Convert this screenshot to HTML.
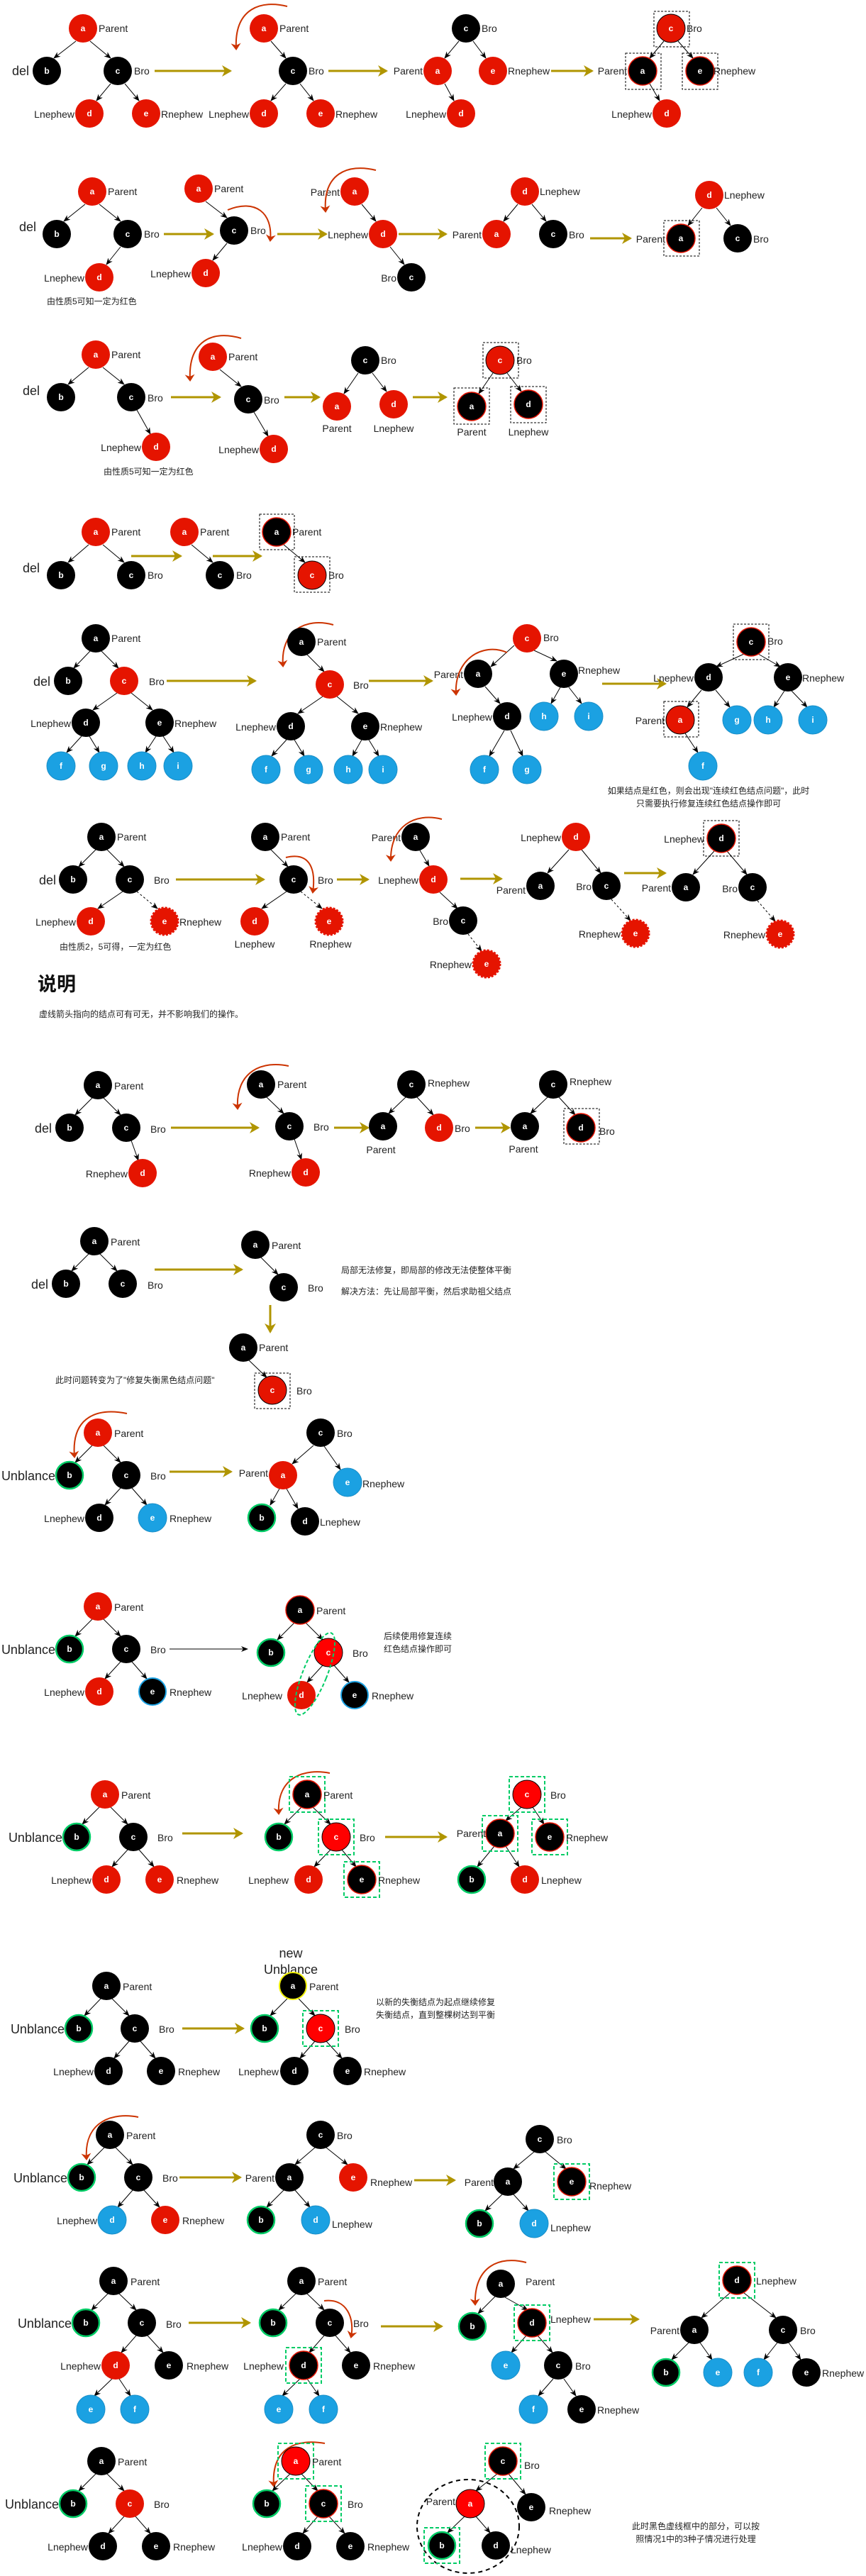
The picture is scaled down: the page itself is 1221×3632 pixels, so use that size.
<!DOCTYPE html>
<html><head><meta charset="utf-8"><style>
body{margin:0;background:#fff}
svg{display:block}
text{font-family:"Liberation Sans","Noto Sans CJK SC",sans-serif}
.t{fill:#fff;font-size:12px;font-weight:bold;text-anchor:middle}
.l{fill:#222;font-size:14px}
.le{fill:#222;font-size:14px;text-anchor:end}
.lm{fill:#222;font-size:14px;text-anchor:middle}
.big{fill:#222;font-size:18px}
.bige{fill:#222;font-size:18px;text-anchor:end}
.z{fill:#222;font-size:12px}
.zm{fill:#222;font-size:12px;text-anchor:middle}
.r{fill:#e51400}.k{fill:#000}.B{fill:#1ba1e2;stroke:#1a8fc8}
.R{fill:#f00;stroke:#000}.rk{fill:#e51400;stroke:#000}
.kr{fill:#000;stroke:#e51400;stroke-width:1.5}
.kg{fill:#000;stroke:#00cc66;stroke-width:2.5}
.kb{fill:#000;stroke:#1ba1e2;stroke-width:2}
.ky{fill:#000;stroke:#ee0;stroke-width:2}
.rd{fill:#e51400;stroke:#e51400;stroke-width:3;stroke-dasharray:3 2}
.e{stroke:#000;stroke-width:1;marker-end:url(#m)}
.ed{stroke:#000;stroke-width:1;stroke-dasharray:3 3;marker-end:url(#m)}
.o{stroke:#b09500;stroke-width:3;marker-end:url(#mo)}
.c{fill:none;stroke:#cc3300;stroke-width:2;marker-end:url(#mc)}
.db{fill:none;stroke:#000;stroke-dasharray:3 2}
.gb{fill:none;stroke:#00cc66;stroke-width:2;stroke-dasharray:5 3}
</style></head><body>
<svg width="1221" height="3632" viewBox="0 0 1221 3632" xmlns="http://www.w3.org/2000/svg">
<defs>
<marker id="m" markerWidth="10" markerHeight="8" refX="9" refY="4" orient="auto" markerUnits="userSpaceOnUse"><path d="M0,0 L10,4 L0,8 L3,4z" fill="#000"/></marker>
<marker id="mo" markerWidth="14" markerHeight="16" refX="12" refY="8" orient="auto" markerUnits="userSpaceOnUse"><path d="M0,0 L14,8 L0,16 L4,8z" fill="#b09500"/></marker>
<marker id="mc" markerWidth="10" markerHeight="14" refX="8" refY="7" orient="auto" markerUnits="userSpaceOnUse"><path d="M0,0 L10,7 L0,14 L3,7z" fill="#cc3300"/></marker>
</defs>

<!-- ROW 1 -->
<line class="e" x1="107" y1="58" x2="76" y2="82"/><line class="e" x1="127" y1="58" x2="156" y2="82"/><line class="e" x1="156" y1="118" x2="136" y2="142"/><line class="e" x1="176" y1="118" x2="196" y2="142"/>
<circle class="r" cx="117" cy="40" r="20"/><text class="t" x="117" y="44">a</text>
<circle class="k" cx="66" cy="100" r="20"/><text class="t" x="66" y="104">b</text>
<circle class="k" cx="166" cy="100" r="20"/><text class="t" x="166" y="104">c</text>
<circle class="r" cx="126" cy="160" r="20"/><text class="t" x="126" y="164">d</text>
<circle class="r" cx="206" cy="160" r="20"/><text class="t" x="206" y="164">e</text>
<text class="l" x="139" y="45">Parent</text><text class="big" x="17" y="106">del</text><text class="l" x="189" y="105">Bro</text><text class="le" x="105" y="166">Lnephew</text><text class="l" x="227" y="166">Rnephew</text>
<line class="o" x1="218" y1="100" x2="325" y2="100"/>
<path class="c" d="M405,9 C370,0 330,10 333,69"/>
<line class="e" x1="382" y1="58" x2="403" y2="82"/><line class="e" x1="403" y1="118" x2="382" y2="142"/><line class="e" x1="423" y1="118" x2="442" y2="142"/>
<circle class="r" cx="372" cy="40" r="20"/><text class="t" x="372" y="44">a</text>
<circle class="k" cx="413" cy="100" r="20"/><text class="t" x="413" y="104">c</text>
<circle class="r" cx="372" cy="160" r="20"/><text class="t" x="372" y="164">d</text>
<circle class="r" cx="452" cy="160" r="20"/><text class="t" x="452" y="164">e</text>
<text class="l" x="394" y="45">Parent</text><text class="l" x="435" y="105">Bro</text><text class="le" x="351" y="166">Lnephew</text><text class="l" x="473" y="166">Rnephew</text>
<line class="o" x1="463" y1="100" x2="545" y2="100"/>
<line class="e" x1="647" y1="58" x2="627" y2="82"/><line class="e" x1="667" y1="58" x2="685" y2="82"/><line class="e" x1="627" y1="118" x2="640" y2="142"/>
<circle class="k" cx="657" cy="40" r="20"/><text class="t" x="657" y="44">c</text>
<circle class="r" cx="617" cy="100" r="20"/><text class="t" x="617" y="104">a</text>
<circle class="r" cx="695" cy="100" r="20"/><text class="t" x="695" y="104">e</text>
<circle class="r" cx="650" cy="160" r="20"/><text class="t" x="650" y="164">d</text>
<text class="l" x="679" y="45">Bro</text><text class="le" x="596" y="105">Parent</text><text class="l" x="716" y="105">Rnephew</text><text class="le" x="629" y="166">Lnephew</text>
<line class="o" x1="777" y1="100" x2="835" y2="100"/>
<line class="e" x1="936" y1="58" x2="916" y2="82"/><line class="e" x1="956" y1="58" x2="977" y2="82"/><line class="e" x1="916" y1="118" x2="930" y2="142"/>
<rect class="db" x="922" y="16" width="50" height="50"/><rect class="db" x="882" y="75" width="50" height="51"/><rect class="db" x="962" y="75" width="50" height="51"/>
<circle class="rk" cx="946" cy="40" r="20"/><text class="t" x="946" y="44">c</text>
<circle class="kr" cx="906" cy="100" r="20"/><text class="t" x="906" y="104">a</text>
<circle class="kr" cx="987" cy="100" r="20"/><text class="t" x="987" y="104">e</text>
<circle class="r" cx="940" cy="160" r="20"/><text class="t" x="940" y="164">d</text>
<text class="l" x="968" y="45">Bro</text><text class="le" x="884" y="105">Parent</text><text class="l" x="1006" y="105">Rnephew</text><text class="le" x="919" y="166">Lnephew</text>

<!-- ROW 2 -->
<line class="e" x1="120" y1="288" x2="90" y2="312"/><line class="e" x1="140" y1="288" x2="170" y2="312"/><line class="e" x1="170" y1="348" x2="150" y2="373"/>
<circle class="r" cx="130" cy="270" r="20"/><text class="t" x="130" y="274">a</text>
<circle class="k" cx="80" cy="330" r="20"/><text class="t" x="80" y="334">b</text>
<circle class="k" cx="180" cy="330" r="20"/><text class="t" x="180" y="334">c</text>
<circle class="r" cx="140" cy="391" r="20"/><text class="t" x="140" y="395">d</text>
<text class="l" x="152" y="275">Parent</text><text class="big" x="27" y="326">del</text><text class="l" x="203" y="335">Bro</text><text class="le" x="119" y="397">Lnephew</text>
<text class="z" x="66" y="429">由性质5可知一定为红色</text>
<line class="o" x1="231" y1="330" x2="300" y2="330"/>
<line class="e" x1="290" y1="284" x2="320" y2="307"/><line class="e" x1="320" y1="343" x2="300" y2="367"/>
<circle class="r" cx="280" cy="266" r="20"/><text class="t" x="280" y="270">a</text>
<circle class="k" cx="330" cy="325" r="20"/><text class="t" x="330" y="329">c</text>
<circle class="r" cx="290" cy="385" r="20"/><text class="t" x="290" y="389">d</text>
<text class="l" x="302" y="271">Parent</text><text class="l" x="353" y="330">Bro</text><text class="le" x="269" y="391">Lnephew</text>
<path class="c" d="M321,296 C360,280 385,300 381,339"/>
<line class="o" x1="391" y1="330" x2="460" y2="330"/>
<line class="e" x1="510" y1="288" x2="530" y2="312"/><line class="e" x1="550" y1="348" x2="570" y2="373"/>
<circle class="r" cx="500" cy="270" r="20"/><text class="t" x="500" y="274">a</text>
<circle class="r" cx="540" cy="330" r="20"/><text class="t" x="540" y="334">d</text>
<circle class="k" cx="580" cy="391" r="20"/><text class="t" x="580" y="395">c</text>
<text class="le" x="479" y="276">Parent</text><text class="le" x="519" y="336">Lnephew</text><text class="le" x="559" y="397">Bro</text>
<path class="c" d="M530,240 C490,230 455,245 459,298"/>
<line class="o" x1="562" y1="330" x2="629" y2="330"/>
<line class="e" x1="730" y1="288" x2="710" y2="312"/><line class="e" x1="750" y1="288" x2="770" y2="312"/>
<circle class="r" cx="740" cy="270" r="20"/><text class="t" x="740" y="274">d</text>
<circle class="r" cx="700" cy="330" r="20"/><text class="t" x="700" y="334">a</text>
<circle class="k" cx="780" cy="330" r="20"/><text class="t" x="780" y="334">c</text>
<text class="l" x="761" y="275">Lnephew</text><text class="le" x="679" y="336">Parent</text><text class="l" x="802" y="336">Bro</text>
<line class="o" x1="832" y1="336" x2="889" y2="336"/>
<line class="e" x1="990" y1="293" x2="970" y2="318"/><line class="e" x1="1010" y1="293" x2="1030" y2="318"/>
<rect class="db" x="936" y="311" width="50" height="50"/>
<circle class="r" cx="1000" cy="275" r="20"/><text class="t" x="1000" y="279">d</text>
<circle class="kr" cx="960" cy="336" r="20"/><text class="t" x="960" y="340">a</text>
<circle class="k" cx="1040" cy="336" r="20"/><text class="t" x="1040" y="340">c</text>
<text class="l" x="1021" y="280">Lnephew</text><text class="le" x="938" y="342">Parent</text><text class="l" x="1062" y="342">Bro</text>

<!-- ROW 3 -->
<line class="e" x1="125" y1="518" x2="96" y2="542"/><line class="e" x1="145" y1="518" x2="175" y2="542"/><line class="e" x1="193" y1="578" x2="212" y2="612"/>
<circle class="r" cx="135" cy="500" r="20"/><text class="t" x="135" y="504">a</text>
<circle class="k" cx="86" cy="560" r="20"/><text class="t" x="86" y="564">b</text>
<circle class="k" cx="185" cy="560" r="20"/><text class="t" x="185" y="564">c</text>
<circle class="r" cx="220" cy="630" r="20"/><text class="t" x="220" y="634">d</text>
<text class="l" x="157" y="505">Parent</text><text class="big" x="32" y="557">del</text><text class="l" x="208" y="566">Bro</text><text class="le" x="199" y="636">Lnephew</text>
<text class="z" x="146" y="669">由性质5可知一定为红色</text>
<line class="o" x1="241" y1="560" x2="310" y2="560"/>
<line class="e" x1="310" y1="521" x2="340" y2="545"/><line class="e" x1="358" y1="581" x2="378" y2="615"/>
<circle class="r" cx="300" cy="503" r="20"/><text class="t" x="300" y="507">a</text>
<circle class="k" cx="350" cy="563" r="20"/><text class="t" x="350" y="567">c</text>
<circle class="r" cx="386" cy="633" r="20"/><text class="t" x="386" y="637">d</text>
<text class="l" x="322" y="508">Parent</text><text class="l" x="372" y="569">Bro</text><text class="le" x="365" y="639">Lnephew</text>
<path class="c" d="M340,477 C300,465 265,480 268,536"/>
<line class="o" x1="401" y1="560" x2="450" y2="560"/>
<line class="e" x1="505" y1="526" x2="485" y2="555"/><line class="e" x1="525" y1="526" x2="545" y2="552"/>
<circle class="k" cx="515" cy="508" r="20"/><text class="t" x="515" y="512">c</text>
<circle class="r" cx="475" cy="573" r="20"/><text class="t" x="475" y="577">a</text>
<circle class="r" cx="555" cy="570" r="20"/><text class="t" x="555" y="574">d</text>
<text class="l" x="537" y="513">Bro</text><text class="lm" x="475" y="609">Parent</text><text class="lm" x="555" y="609">Lnephew</text>
<line class="o" x1="582" y1="560" x2="629" y2="560"/>
<line class="e" x1="695" y1="526" x2="675" y2="555"/><line class="e" x1="715" y1="526" x2="735" y2="552"/>
<rect class="db" x="681" y="483" width="50" height="50"/><rect class="db" x="640" y="547" width="50" height="51"/><rect class="db" x="720" y="545" width="50" height="51"/>
<circle class="rk" cx="705" cy="508" r="20"/><text class="t" x="705" y="512">c</text>
<circle class="kr" cx="665" cy="573" r="20"/><text class="t" x="665" y="577">a</text>
<circle class="kr" cx="745" cy="570" r="20"/><text class="t" x="745" y="574">d</text>
<text class="l" x="728" y="513">Bro</text><text class="lm" x="665" y="614">Parent</text><text class="lm" x="745" y="614">Lnephew</text>

<!-- ROW 4 -->
<line class="e" x1="125" y1="768" x2="96" y2="793"/><line class="e" x1="145" y1="768" x2="175" y2="793"/>
<circle class="r" cx="135" cy="750" r="20"/><text class="t" x="135" y="754">a</text>
<circle class="k" cx="86" cy="811" r="20"/><text class="t" x="86" y="815">b</text>
<circle class="k" cx="185" cy="811" r="20"/><text class="t" x="185" y="815">c</text>
<text class="l" x="157" y="755">Parent</text><text class="big" x="32" y="807">del</text><text class="l" x="208" y="816">Bro</text>
<line class="o" x1="185" y1="784" x2="255" y2="784"/>
<line class="e" x1="270" y1="768" x2="300" y2="793"/>
<circle class="r" cx="260" cy="750" r="20"/><text class="t" x="260" y="754">a</text>
<circle class="k" cx="310" cy="811" r="20"/><text class="t" x="310" y="815">c</text>
<text class="l" x="282" y="755">Parent</text><text class="l" x="333" y="816">Bro</text>
<line class="o" x1="300" y1="784" x2="368" y2="784"/>
<line class="e" x1="400" y1="768" x2="430" y2="793"/>
<rect class="db" x="366" y="725" width="49" height="50"/><rect class="db" x="415" y="785" width="50" height="50"/>
<circle class="kr" cx="390" cy="750" r="20"/><text class="t" x="390" y="754">a</text>
<circle class="rk" cx="440" cy="811" r="20"/><text class="t" x="440" y="815">c</text>
<text class="l" x="412" y="755">Parent</text><text class="l" x="463" y="816">Bro</text>

<!-- ROW 5 -->
<line class="e" x1="127" y1="918" x2="104" y2="942"/><line class="e" x1="143" y1="918" x2="167" y2="942"/><line class="e" x1="165" y1="977" x2="131" y2="1001"/><line class="e" x1="185" y1="977" x2="215" y2="1001"/><line class="e" x1="115" y1="1038" x2="94" y2="1061"/><line class="e" x1="126" y1="1038" x2="140" y2="1061"/><line class="e" x1="220" y1="1038" x2="205" y2="1061"/><line class="e" x1="230" y1="1038" x2="245" y2="1061"/>
<circle class="k" cx="135" cy="900" r="20"/><text class="t" x="135" y="904">a</text>
<circle class="k" cx="96" cy="960" r="20"/><text class="t" x="96" y="964">b</text>
<circle class="r" cx="175" cy="960" r="20"/><text class="t" x="175" y="964">c</text>
<circle class="k" cx="121" cy="1019" r="20"/><text class="t" x="121" y="1023">d</text>
<circle class="k" cx="225" cy="1019" r="20"/><text class="t" x="225" y="1023">e</text>
<circle class="B" cx="86" cy="1080" r="20"/><text class="t" x="86" y="1084">f</text>
<circle class="B" cx="146" cy="1080" r="20"/><text class="t" x="146" y="1084">g</text>
<circle class="B" cx="200" cy="1080" r="20"/><text class="t" x="200" y="1084">h</text>
<circle class="B" cx="251" cy="1080" r="20"/><text class="t" x="251" y="1084">i</text>
<text class="l" x="157" y="905">Parent</text><text class="big" x="47" y="967">del</text><text class="l" x="210" y="966">Bro</text><text class="le" x="100" y="1025">Lnephew</text><text class="l" x="246" y="1025">Rnephew</text>
<line class="o" x1="235" y1="960" x2="360" y2="960"/>
<path class="c" d="M470,881 C430,870 395,890 399,939"/>
<line class="e" x1="433" y1="923" x2="457" y2="947"/><line class="e" x1="455" y1="982" x2="420" y2="1006"/><line class="e" x1="475" y1="982" x2="505" y2="1006"/><line class="e" x1="404" y1="1043" x2="383" y2="1066"/><line class="e" x1="415" y1="1043" x2="429" y2="1066"/><line class="e" x1="510" y1="1043" x2="497" y2="1066"/><line class="e" x1="520" y1="1043" x2="534" y2="1066"/>
<circle class="k" cx="425" cy="905" r="20"/><text class="t" x="425" y="909">a</text>
<circle class="r" cx="465" cy="965" r="20"/><text class="t" x="465" y="969">c</text>
<circle class="k" cx="410" cy="1024" r="20"/><text class="t" x="410" y="1028">d</text>
<circle class="k" cx="515" cy="1024" r="20"/><text class="t" x="515" y="1028">e</text>
<circle class="B" cx="375" cy="1085" r="20"/><text class="t" x="375" y="1089">f</text>
<circle class="B" cx="435" cy="1085" r="20"/><text class="t" x="435" y="1089">g</text>
<circle class="B" cx="491" cy="1085" r="20"/><text class="t" x="491" y="1089">h</text>
<circle class="B" cx="540" cy="1085" r="20"/><text class="t" x="540" y="1089">i</text>
<text class="l" x="447" y="910">Parent</text><text class="l" x="498" y="971">Bro</text><text class="le" x="389" y="1030">Lnephew</text><text class="l" x="536" y="1030">Rnephew</text>
<line class="o" x1="520" y1="960" x2="609" y2="960"/>
<line class="e" x1="725" y1="910" x2="692" y2="940"/><line class="e" x1="753" y1="917" x2="785" y2="932"/><line class="e" x1="684" y1="968" x2="705" y2="992"/><line class="e" x1="790" y1="969" x2="777" y2="992"/><line class="e" x1="802" y1="969" x2="820" y2="992"/><line class="e" x1="711" y1="1030" x2="690" y2="1066"/><line class="e" x1="720" y1="1030" x2="737" y2="1066"/>
<circle class="r" cx="743" cy="900" r="20"/><text class="t" x="743" y="904">c</text>
<circle class="k" cx="674" cy="950" r="20"/><text class="t" x="674" y="954">a</text>
<circle class="k" cx="795" cy="950" r="20"/><text class="t" x="795" y="954">e</text>
<circle class="k" cx="715" cy="1010" r="20"/><text class="t" x="715" y="1014">d</text>
<circle class="B" cx="767" cy="1010" r="20"/><text class="t" x="767" y="1014">h</text>
<circle class="B" cx="830" cy="1010" r="20"/><text class="t" x="830" y="1014">i</text>
<circle class="B" cx="683" cy="1085" r="20"/><text class="t" x="683" y="1089">f</text>
<circle class="B" cx="743" cy="1085" r="20"/><text class="t" x="743" y="1089">g</text>
<text class="l" x="766" y="904">Bro</text><text class="le" x="653" y="956">Parent</text><text class="l" x="815" y="950">Rnephew</text><text class="le" x="694" y="1016">Lnephew</text>
<path class="c" d="M715,920 C680,905 640,930 643,979"/>
<line class="o" x1="849" y1="964" x2="938" y2="964"/>
<line class="e" x1="1049" y1="922" x2="1010" y2="940"/><line class="e" x1="1069" y1="922" x2="1100" y2="940"/><line class="e" x1="989" y1="973" x2="969" y2="997"/><line class="e" x1="1009" y1="973" x2="1029" y2="997"/><line class="e" x1="1106" y1="974" x2="1091" y2="997"/><line class="e" x1="1116" y1="974" x2="1138" y2="997"/><line class="e" x1="966" y1="1034" x2="984" y2="1061"/>
<rect class="db" x="1034" y="880" width="50" height="50"/><rect class="db" x="936" y="989" width="49" height="50"/>
<circle class="kr" cx="1059" cy="905" r="20"/><text class="t" x="1059" y="909">c</text>
<circle class="k" cx="999" cy="955" r="20"/><text class="t" x="999" y="959">d</text>
<circle class="k" cx="1111" cy="955" r="20"/><text class="t" x="1111" y="959">e</text>
<circle class="rk" cx="959" cy="1015" r="20"/><text class="t" x="959" y="1019">a</text>
<circle class="B" cx="1039" cy="1015" r="20"/><text class="t" x="1039" y="1019">g</text>
<circle class="B" cx="1083" cy="1015" r="20"/><text class="t" x="1083" y="1019">h</text>
<circle class="B" cx="1146" cy="1015" r="20"/><text class="t" x="1146" y="1019">i</text>
<circle class="B" cx="991" cy="1080" r="20"/><text class="t" x="991" y="1084">f</text>
<text class="l" x="1082" y="909">Bro</text><text class="le" x="978" y="961">Lnephew</text><text class="l" x="1131" y="961">Rnephew</text><text class="le" x="937" y="1021">Parent</text>
<text class="zm" x="999" y="1119">如果结点是红色，则会出现"连续红色结点问题"，此时</text>
<text class="zm" x="999" y="1137">只需要执行修复连续红色结点操作即可</text>

<!-- ROW 6 -->
<line class="e" x1="135" y1="1198" x2="111" y2="1222"/><line class="e" x1="151" y1="1198" x2="175" y2="1222"/><line class="e" x1="173" y1="1257" x2="138" y2="1281"/><line class="ed" x1="193" y1="1257" x2="222" y2="1281"/>
<circle class="k" cx="143" cy="1180" r="20"/><text class="t" x="143" y="1184">a</text>
<circle class="k" cx="103" cy="1240" r="20"/><text class="t" x="103" y="1244">b</text>
<circle class="k" cx="183" cy="1240" r="20"/><text class="t" x="183" y="1244">c</text>
<circle class="r" cx="128" cy="1299" r="20"/><text class="t" x="128" y="1303">d</text>
<circle class="rd" cx="232" cy="1299" r="19"/><text class="t" x="232" y="1303">e</text>
<text class="l" x="165" y="1185">Parent</text><text class="big" x="55" y="1247">del</text><text class="l" x="217" y="1246">Bro</text><text class="le" x="107" y="1305">Lnephew</text><text class="l" x="253" y="1305">Rnephew</text>
<text class="z" x="84" y="1339">由性质2，5可得，一定为红色</text>
<line class="o" x1="248" y1="1240" x2="372" y2="1240"/>
<line class="e" x1="382" y1="1198" x2="406" y2="1222"/><line class="e" x1="404" y1="1257" x2="369" y2="1281"/><line class="ed" x1="424" y1="1257" x2="454" y2="1281"/>
<circle class="k" cx="374" cy="1180" r="20"/><text class="t" x="374" y="1184">a</text>
<circle class="k" cx="414" cy="1240" r="20"/><text class="t" x="414" y="1244">c</text>
<circle class="r" cx="359" cy="1299" r="20"/><text class="t" x="359" y="1303">d</text>
<circle class="rd" cx="464" cy="1299" r="19"/><text class="t" x="464" y="1303">e</text>
<text class="l" x="396" y="1185">Parent</text><text class="l" x="448" y="1246">Bro</text><text class="lm" x="359" y="1336">Lnephew</text><text class="lm" x="466" y="1336">Rnephew</text>
<path class="c" d="M403,1209 C440,1200 445,1230 441,1258"/>
<line class="o" x1="475" y1="1240" x2="519" y2="1240"/>
<line class="e" x1="592" y1="1199" x2="605" y2="1221"/><line class="e" x1="620" y1="1258" x2="645" y2="1281"/><line class="ed" x1="660" y1="1317" x2="679" y2="1341"/>
<circle class="k" cx="586" cy="1180" r="20"/><text class="t" x="586" y="1184">a</text>
<circle class="r" cx="611" cy="1240" r="20"/><text class="t" x="611" y="1244">d</text>
<circle class="k" cx="653" cy="1298" r="20"/><text class="t" x="653" y="1302">c</text>
<circle class="rd" cx="686" cy="1359" r="19"/><text class="t" x="686" y="1363">e</text>
<text class="le" x="565" y="1186">Parent</text><text class="le" x="590" y="1246">Lnephew</text><text class="le" x="632" y="1304">Bro</text><text class="le" x="665" y="1365">Rnephew</text>
<path class="c" d="M623,1155 C585,1145 550,1165 551,1213"/>
<line class="o" x1="649" y1="1239" x2="707" y2="1239"/>
<line class="e" x1="802" y1="1198" x2="772" y2="1231"/><line class="e" x1="820" y1="1198" x2="847" y2="1231"/><line class="ed" x1="862" y1="1268" x2="889" y2="1298"/>
<circle class="r" cx="812" cy="1180" r="20"/><text class="t" x="812" y="1184">d</text>
<circle class="k" cx="762" cy="1249" r="20"/><text class="t" x="762" y="1253">a</text>
<circle class="k" cx="855" cy="1249" r="20"/><text class="t" x="855" y="1253">c</text>
<circle class="rd" cx="896" cy="1316" r="19"/><text class="t" x="896" y="1320">e</text>
<text class="le" x="791" y="1186">Lnephew</text><text class="le" x="741" y="1260">Parent</text><text class="le" x="834" y="1255">Bro</text><text class="le" x="875" y="1322">Rnephew</text>
<line class="o" x1="880" y1="1231" x2="938" y2="1231"/>
<line class="e" x1="1007" y1="1200" x2="977" y2="1233"/><line class="e" x1="1025" y1="1200" x2="1053" y2="1233"/><line class="ed" x1="1068" y1="1270" x2="1093" y2="1299"/>
<rect class="db" x="992" y="1157" width="50" height="50"/>
<circle class="kr" cx="1017" cy="1182" r="20"/><text class="t" x="1017" y="1186">d</text>
<circle class="k" cx="967" cy="1251" r="20"/><text class="t" x="967" y="1255">a</text>
<circle class="k" cx="1061" cy="1251" r="20"/><text class="t" x="1061" y="1255">c</text>
<circle class="rd" cx="1100" cy="1317" r="19"/><text class="t" x="1100" y="1321">e</text>
<text class="le" x="993" y="1188">Lnephew</text><text class="le" x="946" y="1257">Parent</text><text class="le" x="1040" y="1258">Bro</text><text class="le" x="1079" y="1323">Rnephew</text>

<text x="53" y="1397" style="font-size:27px;font-weight:bold;fill:#111">说明</text>
<text class="z" x="55" y="1434">虚线箭头指向的结点可有可无，并不影响我们的操作。</text>

<!-- ROW 7 -->
<line class="e" x1="130" y1="1548" x2="106" y2="1572"/><line class="e" x1="146" y1="1548" x2="170" y2="1572"/><line class="e" x1="185" y1="1608" x2="195" y2="1636"/>
<circle class="k" cx="138" cy="1530" r="20"/><text class="t" x="138" y="1534">a</text>
<circle class="k" cx="98" cy="1590" r="20"/><text class="t" x="98" y="1594">b</text>
<circle class="k" cx="178" cy="1590" r="20"/><text class="t" x="178" y="1594">c</text>
<circle class="r" cx="201" cy="1654" r="20"/><text class="t" x="201" y="1658">d</text>
<text class="l" x="161" y="1536">Parent</text><text class="big" x="49" y="1597">del</text><text class="l" x="212" y="1597">Bro</text><text class="le" x="180" y="1660">Rnephew</text>
<line class="o" x1="241" y1="1590" x2="364" y2="1590"/>
<path class="c" d="M407,1503 C370,1495 332,1510 335,1563"/>
<line class="e" x1="376" y1="1547" x2="400" y2="1570"/><line class="e" x1="415" y1="1606" x2="425" y2="1635"/>
<circle class="k" cx="368" cy="1529" r="20"/><text class="t" x="368" y="1533">a</text>
<circle class="k" cx="408" cy="1588" r="20"/><text class="t" x="408" y="1592">c</text>
<circle class="r" cx="431" cy="1653" r="20"/><text class="t" x="431" y="1657">d</text>
<text class="l" x="391" y="1534">Parent</text><text class="l" x="442" y="1594">Bro</text><text class="le" x="410" y="1659">Rnephew</text>
<line class="o" x1="471" y1="1590" x2="519" y2="1590"/>
<line class="e" x1="572" y1="1547" x2="548" y2="1570"/><line class="e" x1="588" y1="1547" x2="611" y2="1572"/>
<circle class="k" cx="580" cy="1529" r="20"/><text class="t" x="580" y="1533">c</text>
<circle class="k" cx="540" cy="1588" r="20"/><text class="t" x="540" y="1592">a</text>
<circle class="r" cx="619" cy="1590" r="20"/><text class="t" x="619" y="1594">d</text>
<text class="l" x="603" y="1532">Rnephew</text><text class="lm" x="537" y="1626">Parent</text><text class="l" x="641" y="1596">Bro</text>
<line class="o" x1="670" y1="1590" x2="718" y2="1590"/>
<line class="e" x1="772" y1="1547" x2="748" y2="1570"/><line class="e" x1="788" y1="1547" x2="811" y2="1572"/>
<rect class="db" x="795" y="1563" width="50" height="50"/>
<circle class="k" cx="780" cy="1529" r="20"/><text class="t" x="780" y="1533">c</text>
<circle class="k" cx="740" cy="1588" r="20"/><text class="t" x="740" y="1592">a</text>
<circle class="kr" cx="819" cy="1590" r="20"/><text class="t" x="819" y="1594">d</text>
<text class="l" x="803" y="1530">Rnephew</text><text class="lm" x="738" y="1625">Parent</text><text class="l" x="845" y="1600">Bro</text>

<!-- ROW 8 -->
<line class="e" x1="125" y1="1768" x2="101" y2="1792"/><line class="e" x1="141" y1="1768" x2="165" y2="1792"/>
<circle class="k" cx="133" cy="1750" r="20"/><text class="t" x="133" y="1754">a</text>
<circle class="k" cx="93" cy="1810" r="20"/><text class="t" x="93" y="1814">b</text>
<circle class="k" cx="173" cy="1810" r="20"/><text class="t" x="173" y="1814">c</text>
<text class="l" x="156" y="1756">Parent</text><text class="big" x="44" y="1817">del</text><text class="l" x="208" y="1817">Bro</text>
<line class="o" x1="218" y1="1790" x2="341" y2="1790"/>
<line class="e" x1="368" y1="1773" x2="392" y2="1797"/>
<circle class="k" cx="360" cy="1755" r="20"/><text class="t" x="360" y="1759">a</text>
<circle class="k" cx="400" cy="1815" r="20"/><text class="t" x="400" y="1819">c</text>
<text class="l" x="383" y="1761">Parent</text><text class="l" x="434" y="1821">Bro</text>
<text class="z" x="481" y="1795">局部无法修复，即局部的修改无法使整体平衡</text>
<text class="z" x="481" y="1825">解决方法：先让局部平衡，然后求助祖父结点</text>
<line class="o" x1="381" y1="1840" x2="381" y2="1878"/>
<line class="e" x1="351" y1="1918" x2="376" y2="1942"/>
<rect class="db" x="359" y="1936" width="50" height="50"/>
<circle class="k" cx="343" cy="1900" r="20"/><text class="t" x="343" y="1904">a</text>
<circle class="rk" cx="384" cy="1960" r="20"/><text class="t" x="384" y="1964">c</text>
<text class="l" x="365" y="1905">Parent</text><text class="l" x="418" y="1966">Bro</text>
<text class="z" x="78" y="1950">此时问题转变为了"修复失衡黑色结点问题"</text>

<!-- ROW 9 -->
<path class="c" d="M179,1993 C140,1985 100,1995 105,2054"/>
<line class="e" x1="130" y1="2038" x2="106" y2="2062"/><line class="e" x1="146" y1="2038" x2="170" y2="2062"/><line class="e" x1="170" y1="2098" x2="148" y2="2122"/><line class="e" x1="186" y1="2098" x2="207" y2="2122"/>
<circle class="r" cx="138" cy="2020" r="20"/><text class="t" x="138" y="2024">a</text>
<circle class="kg" cx="98" cy="2080" r="19"/><text class="t" x="98" y="2084">b</text>
<circle class="k" cx="178" cy="2080" r="20"/><text class="t" x="178" y="2084">c</text>
<circle class="k" cx="140" cy="2140" r="20"/><text class="t" x="140" y="2144">d</text>
<circle class="B" cx="215" cy="2140" r="20"/><text class="t" x="215" y="2144">e</text>
<text class="l" x="161" y="2026">Parent</text><text class="bige" x="78" y="2087">Unblance</text><text class="l" x="212" y="2086">Bro</text><text class="le" x="119" y="2146">Lnephew</text><text class="l" x="239" y="2146">Rnephew</text>
<line class="o" x1="239" y1="2075" x2="326" y2="2075"/>
<line class="e" x1="442" y1="2038" x2="412" y2="2064"/><line class="e" x1="457" y1="2039" x2="480" y2="2072"/><line class="e" x1="394" y1="2099" x2="381" y2="2122"/><line class="e" x1="404" y1="2099" x2="420" y2="2127"/>
<circle class="k" cx="452" cy="2020" r="20"/><text class="t" x="452" y="2024">c</text>
<circle class="r" cx="399" cy="2080" r="20"/><text class="t" x="399" y="2084">a</text>
<circle class="B" cx="490" cy="2090" r="20"/><text class="t" x="490" y="2094">e</text>
<circle class="kg" cx="369" cy="2140" r="19"/><text class="t" x="369" y="2144">b</text>
<circle class="k" cx="430" cy="2145" r="20"/><text class="t" x="430" y="2149">d</text>
<text class="l" x="475" y="2026">Bro</text><text class="le" x="378" y="2082">Parent</text><text class="l" x="511" y="2097">Rnephew</text><text class="l" x="451" y="2151">Lnephew</text>

<!-- ROW 10 -->
<line class="e" x1="130" y1="2283" x2="106" y2="2307"/><line class="e" x1="146" y1="2283" x2="170" y2="2307"/><line class="e" x1="170" y1="2343" x2="148" y2="2367"/><line class="e" x1="186" y1="2343" x2="207" y2="2367"/>
<circle class="r" cx="138" cy="2265" r="20"/><text class="t" x="138" y="2269">a</text>
<circle class="kg" cx="98" cy="2325" r="19"/><text class="t" x="98" y="2329">b</text>
<circle class="k" cx="178" cy="2325" r="20"/><text class="t" x="178" y="2329">c</text>
<circle class="r" cx="140" cy="2385" r="20"/><text class="t" x="140" y="2389">d</text>
<circle class="kb" cx="215" cy="2385" r="19"/><text class="t" x="215" y="2389">e</text>
<text class="l" x="161" y="2271">Parent</text><text class="bige" x="78" y="2332">Unblance</text><text class="l" x="212" y="2331">Bro</text><text class="le" x="119" y="2391">Lnephew</text><text class="l" x="239" y="2391">Rnephew</text>
<line class="e" x1="239" y1="2325" x2="349" y2="2325"/>
<line class="e" x1="415" y1="2288" x2="391" y2="2312"/><line class="e" x1="431" y1="2288" x2="455" y2="2312"/><line class="e" x1="455" y1="2348" x2="433" y2="2372"/><line class="e" x1="471" y1="2348" x2="492" y2="2372"/>
<circle class="kr" cx="423" cy="2270" r="20"/><text class="t" x="423" y="2274">a</text>
<circle class="kg" cx="382" cy="2330" r="19"/><text class="t" x="382" y="2334">b</text>
<circle class="R" cx="463" cy="2330" r="20"/><text class="t" x="463" y="2334">c</text>
<circle class="r" cx="425" cy="2390" r="20"/><text class="t" x="425" y="2394">d</text>
<circle class="kb" cx="500" cy="2390" r="19"/><text class="t" x="500" y="2394">e</text>
<ellipse cx="444" cy="2360" rx="17" ry="62" transform="rotate(22 444 2360)" class="gb"/>
<text class="l" x="446" y="2276">Parent</text><text class="l" x="497" y="2336">Bro</text><text class="le" x="398" y="2396">Lnephew</text><text class="l" x="524" y="2396">Rnephew</text>
<text class="z" x="541" y="2311">后续使用修复连续</text><text class="z" x="541" y="2329">红色结点操作即可</text>

<!-- ROW 11 -->
<line class="e" x1="140" y1="2548" x2="116" y2="2572"/><line class="e" x1="156" y1="2548" x2="180" y2="2572"/><line class="e" x1="180" y1="2608" x2="158" y2="2632"/><line class="e" x1="196" y1="2608" x2="217" y2="2632"/>
<circle class="r" cx="148" cy="2530" r="20"/><text class="t" x="148" y="2534">a</text>
<circle class="kg" cx="108" cy="2590" r="19"/><text class="t" x="108" y="2594">b</text>
<circle class="k" cx="188" cy="2590" r="20"/><text class="t" x="188" y="2594">c</text>
<circle class="r" cx="150" cy="2650" r="20"/><text class="t" x="150" y="2654">d</text>
<circle class="r" cx="225" cy="2650" r="20"/><text class="t" x="225" y="2654">e</text>
<text class="l" x="171" y="2536">Parent</text><text class="bige" x="88" y="2597">Unblance</text><text class="l" x="222" y="2596">Bro</text><text class="le" x="129" y="2656">Lnephew</text><text class="l" x="249" y="2656">Rnephew</text>
<line class="o" x1="257" y1="2585" x2="341" y2="2585"/>
<path class="c" d="M465,2500 C430,2493 390,2505 393,2557"/>
<line class="e" x1="425" y1="2548" x2="401" y2="2572"/><line class="e" x1="441" y1="2548" x2="466" y2="2572"/><line class="e" x1="466" y1="2608" x2="443" y2="2632"/><line class="e" x1="482" y1="2608" x2="502" y2="2632"/>
<rect class="gb" x="408" y="2505" width="50" height="50"/><rect class="gb" x="449" y="2565" width="50" height="50"/><rect class="gb" x="485" y="2625" width="50" height="50"/>
<circle class="kr" cx="433" cy="2530" r="20"/><text class="t" x="433" y="2534">a</text>
<circle class="kg" cx="393" cy="2590" r="19"/><text class="t" x="393" y="2594">b</text>
<circle class="R" cx="474" cy="2590" r="20"/><text class="t" x="474" y="2594">c</text>
<circle class="r" cx="435" cy="2650" r="20"/><text class="t" x="435" y="2654">d</text>
<circle class="kr" cx="510" cy="2650" r="20"/><text class="t" x="510" y="2654">e</text>
<text class="l" x="456" y="2536">Parent</text><text class="l" x="507" y="2596">Bro</text><text class="le" x="407" y="2656">Lnephew</text><text class="l" x="533" y="2656">Rnephew</text>
<line class="o" x1="543" y1="2590" x2="629" y2="2590"/>
<line class="e" x1="735" y1="2548" x2="713" y2="2567"/><line class="e" x1="751" y1="2548" x2="767" y2="2572"/><line class="e" x1="697" y1="2603" x2="673" y2="2632"/><line class="e" x1="713" y1="2603" x2="732" y2="2632"/>
<rect class="gb" x="718" y="2505" width="50" height="50"/><rect class="gb" x="680" y="2560" width="50" height="50"/><rect class="gb" x="750" y="2565" width="50" height="50"/>
<circle class="R" cx="743" cy="2530" r="20"/><text class="t" x="743" y="2534">c</text>
<circle class="kr" cx="705" cy="2585" r="20"/><text class="t" x="705" y="2589">a</text>
<circle class="kr" cx="775" cy="2590" r="20"/><text class="t" x="775" y="2594">e</text>
<circle class="kg" cx="665" cy="2650" r="19"/><text class="t" x="665" y="2654">b</text>
<circle class="r" cx="740" cy="2650" r="20"/><text class="t" x="740" y="2654">d</text>
<text class="l" x="776" y="2536">Bro</text><text class="le" x="685" y="2590">Parent</text><text class="l" x="798" y="2596">Rnephew</text><text class="l" x="763" y="2656">Lnephew</text>

<!-- ROW 12 -->
<text class="big" x="410" y="2760" text-anchor="middle">new</text><text class="big" x="410" y="2783" text-anchor="middle">Unblance</text>
<line class="e" x1="142" y1="2818" x2="119" y2="2842"/><line class="e" x1="158" y1="2818" x2="182" y2="2842"/><line class="e" x1="182" y1="2878" x2="161" y2="2902"/><line class="e" x1="198" y1="2878" x2="219" y2="2902"/>
<circle class="k" cx="150" cy="2800" r="20"/><text class="t" x="150" y="2804">a</text>
<circle class="kg" cx="111" cy="2860" r="19"/><text class="t" x="111" y="2864">b</text>
<circle class="k" cx="190" cy="2860" r="20"/><text class="t" x="190" y="2864">c</text>
<circle class="k" cx="153" cy="2920" r="20"/><text class="t" x="153" y="2924">d</text>
<circle class="k" cx="227" cy="2920" r="20"/><text class="t" x="227" y="2924">e</text>
<text class="l" x="173" y="2806">Parent</text><text class="bige" x="91" y="2867">Unblance</text><text class="l" x="224" y="2866">Bro</text><text class="le" x="132" y="2926">Lnephew</text><text class="l" x="251" y="2926">Rnephew</text>
<line class="o" x1="257" y1="2860" x2="343" y2="2860"/>
<line class="e" x1="405" y1="2818" x2="381" y2="2842"/><line class="e" x1="421" y1="2818" x2="444" y2="2842"/><line class="e" x1="444" y1="2878" x2="423" y2="2902"/><line class="e" x1="460" y1="2878" x2="482" y2="2902"/>
<rect class="gb" x="427" y="2835" width="50" height="50"/>
<circle class="ky" cx="413" cy="2800" r="19"/><text class="t" x="413" y="2804">a</text>
<circle class="kg" cx="373" cy="2860" r="19"/><text class="t" x="373" y="2864">b</text>
<circle class="R" cx="452" cy="2860" r="20"/><text class="t" x="452" y="2864">c</text>
<circle class="k" cx="415" cy="2920" r="20"/><text class="t" x="415" y="2924">d</text>
<circle class="k" cx="490" cy="2920" r="20"/><text class="t" x="490" y="2924">e</text>
<text class="l" x="436" y="2806">Parent</text><text class="l" x="486" y="2866">Bro</text><text class="le" x="393" y="2926">Lnephew</text><text class="l" x="513" y="2926">Rnephew</text>
<text class="z" x="530" y="2827">以新的失衡结点为起点继续修复</text><text class="z" x="530" y="2845">失衡结点，直到整棵树达到平衡</text>

<!-- ROW 13 -->
<path class="c" d="M195,2985 C160,2978 118,2990 122,3044"/>
<line class="e" x1="147" y1="3028" x2="123" y2="3052"/><line class="e" x1="163" y1="3028" x2="187" y2="3052"/><line class="e" x1="187" y1="3088" x2="166" y2="3112"/><line class="e" x1="203" y1="3088" x2="225" y2="3112"/>
<circle class="k" cx="155" cy="3010" r="20"/><text class="t" x="155" y="3014">a</text>
<circle class="kg" cx="115" cy="3070" r="19"/><text class="t" x="115" y="3074">b</text>
<circle class="k" cx="195" cy="3070" r="20"/><text class="t" x="195" y="3074">c</text>
<circle class="B" cx="158" cy="3130" r="20"/><text class="t" x="158" y="3134">d</text>
<circle class="r" cx="233" cy="3130" r="20"/><text class="t" x="233" y="3134">e</text>
<text class="l" x="178" y="3016">Parent</text><text class="bige" x="95" y="3077">Unblance</text><text class="l" x="229" y="3076">Bro</text><text class="le" x="137" y="3136">Lnephew</text><text class="l" x="257" y="3136">Rnephew</text>
<line class="o" x1="253" y1="3070" x2="339" y2="3070"/>
<line class="e" x1="444" y1="3028" x2="416" y2="3052"/><line class="e" x1="460" y1="3028" x2="490" y2="3052"/><line class="e" x1="400" y1="3088" x2="376" y2="3112"/><line class="e" x1="416" y1="3088" x2="437" y2="3112"/>
<circle class="k" cx="452" cy="3010" r="20"/><text class="t" x="452" y="3014">c</text>
<circle class="k" cx="408" cy="3070" r="20"/><text class="t" x="408" y="3074">a</text>
<circle class="r" cx="498" cy="3070" r="20"/><text class="t" x="498" y="3074">e</text>
<circle class="kg" cx="368" cy="3130" r="19"/><text class="t" x="368" y="3134">b</text>
<circle class="B" cx="445" cy="3130" r="20"/><text class="t" x="445" y="3134">d</text>
<text class="l" x="475" y="3016">Bro</text><text class="le" x="387" y="3076">Parent</text><text class="l" x="522" y="3082">Rnephew</text><text class="l" x="468" y="3141">Lnephew</text>
<line class="o" x1="584" y1="3074" x2="641" y2="3074"/>
<line class="e" x1="753" y1="3034" x2="724" y2="3058"/><line class="e" x1="769" y1="3034" x2="798" y2="3058"/><line class="e" x1="708" y1="3094" x2="684" y2="3117"/><line class="e" x1="724" y1="3094" x2="745" y2="3117"/>
<rect class="gb" x="781" y="3051" width="50" height="50"/>
<circle class="k" cx="761" cy="3016" r="20"/><text class="t" x="761" y="3020">c</text>
<circle class="k" cx="716" cy="3076" r="20"/><text class="t" x="716" y="3080">a</text>
<circle class="kr" cx="806" cy="3076" r="20"/><text class="t" x="806" y="3080">e</text>
<circle class="kg" cx="676" cy="3135" r="19"/><text class="t" x="676" y="3139">b</text>
<circle class="B" cx="753" cy="3135" r="20"/><text class="t" x="753" y="3139">d</text>
<text class="l" x="785" y="3022">Bro</text><text class="le" x="696" y="3082">Parent</text><text class="l" x="831" y="3087">Rnephew</text><text class="l" x="776" y="3146">Lnephew</text>

<!-- ROW 14 -->
<line class="e" x1="152" y1="3234" x2="129" y2="3257"/><line class="e" x1="168" y1="3234" x2="192" y2="3257"/><line class="e" x1="192" y1="3293" x2="171" y2="3317"/><line class="e" x1="208" y1="3293" x2="230" y2="3317"/><line class="e" x1="158" y1="3354" x2="133" y2="3378"/><line class="e" x1="168" y1="3354" x2="184" y2="3378"/>
<circle class="k" cx="160" cy="3216" r="20"/><text class="t" x="160" y="3220">a</text>
<circle class="kg" cx="121" cy="3275" r="19"/><text class="t" x="121" y="3279">b</text>
<circle class="k" cx="200" cy="3275" r="20"/><text class="t" x="200" y="3279">c</text>
<circle class="r" cx="163" cy="3335" r="20"/><text class="t" x="163" y="3339">d</text>
<circle class="k" cx="238" cy="3335" r="20"/><text class="t" x="238" y="3339">e</text>
<circle class="B" cx="128" cy="3397" r="20"/><text class="t" x="128" y="3401">e</text>
<circle class="B" cx="190" cy="3397" r="20"/><text class="t" x="190" y="3401">f</text>
<text class="l" x="184" y="3222">Parent</text><text class="bige" x="101" y="3282">Unblance</text><text class="l" x="234" y="3282">Bro</text><text class="le" x="142" y="3341">Lnephew</text><text class="l" x="263" y="3341">Rnephew</text>
<line class="o" x1="266" y1="3275" x2="352" y2="3275"/>
<line class="e" x1="417" y1="3234" x2="393" y2="3257"/><line class="e" x1="433" y1="3234" x2="457" y2="3257"/><line class="e" x1="457" y1="3293" x2="436" y2="3317"/><line class="e" x1="473" y1="3293" x2="494" y2="3317"/><line class="e" x1="423" y1="3354" x2="398" y2="3378"/><line class="e" x1="433" y1="3354" x2="450" y2="3378"/>
<rect class="gb" x="403" y="3310" width="50" height="50"/>
<circle class="k" cx="425" cy="3216" r="20"/><text class="t" x="425" y="3220">a</text>
<circle class="kg" cx="385" cy="3275" r="19"/><text class="t" x="385" y="3279">b</text>
<circle class="k" cx="465" cy="3275" r="20"/><text class="t" x="465" y="3279">c</text>
<circle class="kr" cx="428" cy="3335" r="20"/><text class="t" x="428" y="3339">d</text>
<circle class="k" cx="502" cy="3335" r="20"/><text class="t" x="502" y="3339">e</text>
<circle class="B" cx="393" cy="3397" r="20"/><text class="t" x="393" y="3401">e</text>
<circle class="B" cx="456" cy="3397" r="20"/><text class="t" x="456" y="3401">f</text>
<text class="l" x="448" y="3222">Parent</text><text class="l" x="498" y="3281">Bro</text><text class="le" x="400" y="3341">Lnephew</text><text class="l" x="526" y="3341">Rnephew</text>
<path class="c" d="M457,3244 C490,3240 500,3270 495,3295"/>
<line class="o" x1="537" y1="3280" x2="623" y2="3280"/>
<path class="c" d="M742,3190 C705,3180 668,3195 670,3249"/>
<line class="e" x1="698" y1="3238" x2="674" y2="3262"/><line class="e" x1="712" y1="3239" x2="744" y2="3257"/><line class="e" x1="742" y1="3293" x2="721" y2="3317"/><line class="e" x1="758" y1="3293" x2="779" y2="3317"/><line class="e" x1="780" y1="3354" x2="759" y2="3378"/><line class="e" x1="795" y1="3354" x2="812" y2="3378"/>
<rect class="gb" x="725" y="3250" width="50" height="50"/>
<circle class="k" cx="706" cy="3220" r="20"/><text class="t" x="706" y="3224">a</text>
<circle class="kg" cx="666" cy="3280" r="19"/><text class="t" x="666" y="3284">b</text>
<circle class="kr" cx="750" cy="3275" r="20"/><text class="t" x="750" y="3279">d</text>
<circle class="B" cx="713" cy="3335" r="20"/><text class="t" x="713" y="3339">e</text>
<circle class="k" cx="787" cy="3335" r="20"/><text class="t" x="787" y="3339">c</text>
<circle class="B" cx="752" cy="3397" r="20"/><text class="t" x="752" y="3401">f</text>
<circle class="k" cx="820" cy="3397" r="20"/><text class="t" x="820" y="3401">e</text>
<text class="l" x="741" y="3222">Parent</text><text class="l" x="776" y="3275">Lnephew</text><text class="l" x="811" y="3341">Bro</text><text class="l" x="842" y="3403">Rnephew</text>
<line class="o" x1="837" y1="3270" x2="900" y2="3270"/>
<line class="e" x1="1029" y1="3233" x2="989" y2="3268"/><line class="e" x1="1049" y1="3233" x2="1094" y2="3268"/><line class="e" x1="971" y1="3303" x2="947" y2="3327"/><line class="e" x1="987" y1="3303" x2="1004" y2="3327"/><line class="e" x1="1096" y1="3303" x2="1077" y2="3327"/><line class="e" x1="1112" y1="3303" x2="1129" y2="3327"/>
<rect class="gb" x="1014" y="3190" width="50" height="50"/>
<circle class="kr" cx="1039" cy="3215" r="20"/><text class="t" x="1039" y="3219">d</text>
<circle class="k" cx="979" cy="3285" r="20"/><text class="t" x="979" y="3289">a</text>
<circle class="k" cx="1104" cy="3285" r="20"/><text class="t" x="1104" y="3289">c</text>
<circle class="kg" cx="939" cy="3345" r="19"/><text class="t" x="939" y="3349">b</text>
<circle class="B" cx="1012" cy="3345" r="20"/><text class="t" x="1012" y="3349">e</text>
<circle class="B" cx="1069" cy="3345" r="20"/><text class="t" x="1069" y="3349">f</text>
<circle class="k" cx="1137" cy="3345" r="20"/><text class="t" x="1137" y="3349">e</text>
<text class="l" x="1066" y="3221">Lnephew</text><text class="le" x="958" y="3291">Parent</text><text class="l" x="1128" y="3291">Bro</text><text class="l" x="1159" y="3351">Rnephew</text>

<!-- ROW 15 -->
<line class="e" x1="135" y1="3488" x2="111" y2="3512"/><line class="e" x1="151" y1="3488" x2="175" y2="3512"/><line class="e" x1="175" y1="3548" x2="153" y2="3572"/><line class="e" x1="191" y1="3548" x2="212" y2="3572"/>
<circle class="k" cx="143" cy="3470" r="20"/><text class="t" x="143" y="3474">a</text>
<circle class="kg" cx="103" cy="3530" r="19"/><text class="t" x="103" y="3534">b</text>
<circle class="r" cx="183" cy="3530" r="20"/><text class="t" x="183" y="3534">c</text>
<circle class="k" cx="145" cy="3590" r="20"/><text class="t" x="145" y="3594">d</text>
<circle class="k" cx="220" cy="3590" r="20"/><text class="t" x="220" y="3594">e</text>
<text class="l" x="166" y="3476">Parent</text><text class="bige" x="83" y="3537">Unblance</text><text class="l" x="217" y="3536">Bro</text><text class="le" x="124" y="3596">Lnephew</text><text class="l" x="244" y="3596">Rnephew</text>
<path class="c" d="M458,3445 C420,3438 382,3450 386,3505"/>
<line class="e" x1="409" y1="3488" x2="384" y2="3512"/><line class="e" x1="425" y1="3488" x2="448" y2="3512"/><line class="e" x1="448" y1="3548" x2="427" y2="3572"/><line class="e" x1="464" y1="3548" x2="486" y2="3572"/>
<rect class="gb" x="392" y="3445" width="50" height="50"/><rect class="gb" x="431" y="3505" width="50" height="50"/>
<circle class="R" cx="417" cy="3470" r="20"/><text class="t" x="417" y="3474">a</text>
<circle class="kg" cx="376" cy="3530" r="19"/><text class="t" x="376" y="3534">b</text>
<circle class="kr" cx="456" cy="3530" r="20"/><text class="t" x="456" y="3534">c</text>
<circle class="k" cx="419" cy="3590" r="20"/><text class="t" x="419" y="3594">d</text>
<circle class="k" cx="494" cy="3590" r="20"/><text class="t" x="494" y="3594">e</text>
<text class="l" x="440" y="3476">Parent</text><text class="l" x="490" y="3536">Bro</text><text class="le" x="398" y="3596">Lnephew</text><text class="l" x="518" y="3596">Rnephew</text>
<ellipse cx="660" cy="3562" rx="72" ry="66" fill="none" stroke="#000" stroke-width="2" stroke-dasharray="6 5"/>
<line class="e" x1="701" y1="3488" x2="671" y2="3512"/><line class="e" x1="717" y1="3488" x2="741" y2="3517"/><line class="e" x1="655" y1="3548" x2="631" y2="3571"/><line class="e" x1="671" y1="3548" x2="691" y2="3571"/>
<rect class="gb" x="684" y="3445" width="50" height="50"/><rect class="gb" x="598" y="3564" width="50" height="50"/>
<circle class="kr" cx="709" cy="3470" r="20"/><text class="t" x="709" y="3474">c</text>
<circle class="R" cx="663" cy="3530" r="20"/><text class="t" x="663" y="3534">a</text>
<circle class="k" cx="749" cy="3535" r="20"/><text class="t" x="749" y="3539">e</text>
<circle class="kg" cx="623" cy="3589" r="19"/><text class="t" x="623" y="3593">b</text>
<circle class="k" cx="699" cy="3589" r="20"/><text class="t" x="699" y="3593">d</text>
<text class="l" x="739" y="3481">Bro</text><text class="le" x="642" y="3532">Parent</text><text class="l" x="774" y="3545">Rnephew</text><text class="l" x="720" y="3600">Lnephew</text>
<text class="zm" x="981" y="3566">此时黑色虚线框中的部分，可以按</text>
<text class="zm" x="981" y="3584">照情况1中的3种子情况进行处理</text>
</svg>
</body></html>
